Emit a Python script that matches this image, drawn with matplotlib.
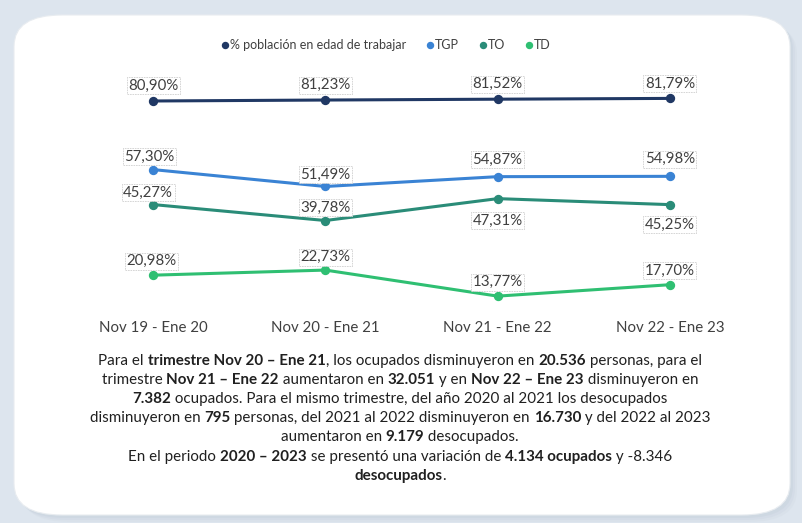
import matplotlib
matplotlib.use('Agg')
import matplotlib.pyplot as plt
from matplotlib.patches import FancyBboxPatch

plt.rcParams['font.family'] = ['Lato', 'DejaVu Sans']

# data
periods = ['Nov 19 - Ene 20', 'Nov 20 - Ene 21', 'Nov 21 - Ene 22', 'Nov 22 - Ene 23']
series_names = ['% población en edad de trabajar', 'TGP', 'TO', 'TD']
pet = [80.90, 81.23, 81.52, 81.79]
tgp = [57.30, 51.49, 54.87, 54.98]
to = [45.27, 39.78, 47.31, 45.25]
td = [20.98, 22.73, 13.77, 17.70]
colors = ['#203864', '#3a83d4', '#2a8c78', '#2fbf72']

# label offsets in pixels (dx, dy) relative to the point
offsets = [
    [(0, 15), (0, 15), (0, 15), (0, 15)],
    [(-4, 13), (0, 12), (0, 17), (0, 17)],
    [(-5, 12), (0, 13), (0, -22), (0, -20)],
    [(-2, 14), (0, 13), (0, 14), (0, 14)],
]

text_lines = [
    [('Para el ', False), ('trimestre Nov 20 – Ene 21', True), (', los ocupados disminuyeron en ', False),
     ('20.536', True), (' personas, para el', False)],
    [('trimestre ', False), ('Nov 21 – Ene 22', True), (' aumentaron en ', False), ('32.051', True),
     (' y en ', False), ('Nov 22 – Ene 23', True), (' disminuyeron en', False)],
    [('7.382', True), (' ocupados. Para el mismo trimestre, del año 2020 al 2021 los desocupados', False)],
    [('disminuyeron en ', False), ('795', True), (' personas, del 2021 al 2022 disminuyeron en ', False),
     ('16.730', True), (' y del 2022 al 2023', False)],
    [('aumentaron en ', False), ('9.179', True), (' desocupados.', False)],
    [('En el periodo ', False), ('2020 – 2023', True), (' se presentó una variación de ', False),
     ('4.134 ocupados', True), (' y -8.346', False)],
    [('desocupados', True), ('.', False)],
]

W, H = 802, 523
fig = plt.figure(figsize=(W / 100, H / 100), dpi=100)
fig.patch.set_facecolor('#dde5ee')

# white rounded card with soft shadow
for i, a in enumerate([0.06, 0.05, 0.04]):
    s = 3 + 2 * i
    fig.patches.append(FancyBboxPatch((14 / W + s / W, 1 - 515 / H - s / H), 776 / W, 500 / H,
                                      boxstyle='round,pad=0,rounding_size=0.06',
                                      transform=fig.transFigure, fc='#8090a0', ec='none',
                                      alpha=a, zorder=0))
fig.patches.append(FancyBboxPatch((14 / W, 1 - 515 / H), 776 / W, 500 / H,
                                  boxstyle='round,pad=0,rounding_size=0.06',
                                  transform=fig.transFigure, fc='white', ec='#e8ecf0',
                                  lw=0.8, zorder=1))

ax = fig.add_axes([67 / W, 1 - 310 / H, 689 / W, 250 / H])
ax.set_facecolor('none')
ax.set_zorder(2)

all_series = [pet, tgp, to, td]
x = list(range(len(periods)))
for k, vals in enumerate(all_series):
    ax.plot(x, vals, color=colors[k], lw=2.2, marker='o', ms=5.5,
            mfc=colors[k], mec=colors[k], mew=1.2, label=series_names[k], zorder=3)
    for j, v in enumerate(vals):
        dx, dy = offsets[k][j]
        ax.annotate(f'{v:.2f}%'.replace('.', ','), (x[j], v), xytext=(dx, dy),
                    textcoords='offset pixels', ha='center', va='center',
                    fontsize=10.8, color='#404040', zorder=4,
                    bbox=dict(boxstyle='square,pad=0.1', fc='white', ec='#d0d0d0',
                              ls=(0, (2, 1)), lw=0.6))

ax.set_xlim(-0.5, 3.5)
ax.set_ylim(9.0, 95.0)
ax.set_xticks(x)
ax.set_xticklabels(periods, fontsize=10.8, color='#404040')
ax.tick_params(axis='x', length=0, pad=8)
ax.set_yticks([])
for sp in ax.spines.values():
    sp.set_visible(False)

leg = ax.legend(loc='center', bbox_to_anchor=(386 / W, 1 - 45 / H), bbox_transform=fig.transFigure,
                ncol=4, frameon=False, fontsize=9, handlelength=0.6, handletextpad=0.1,
                columnspacing=1.6, markerscale=0.75)
for t in leg.get_texts():
    t.set_color('#404040')
for h in leg.legend_handles:
    h.set_linestyle('none')

# paragraph with mixed bold
fig.canvas.draw()
renderer = fig.canvas.get_renderer()
line_y = [361, 380, 399, 418, 437, 457, 476]
for segs, yp in zip(text_lines, line_y):
    objs = []
    for s, b in segs:
        t = fig.text(0, 1 - yp / H, s, fontsize=10.9, fontweight='bold' if b else 'normal',
                     color='#202020', va='center', ha='left', zorder=5)
        objs.append(t)
    widths = [t.get_window_extent(renderer).width for t in objs]
    total = sum(widths)
    xpos = 400 - total / 2
    for t, w in zip(objs, widths):
        t.set_x(xpos / W)
        xpos += w

fig.savefig('out.png', dpi=100, facecolor=fig.get_facecolor())
